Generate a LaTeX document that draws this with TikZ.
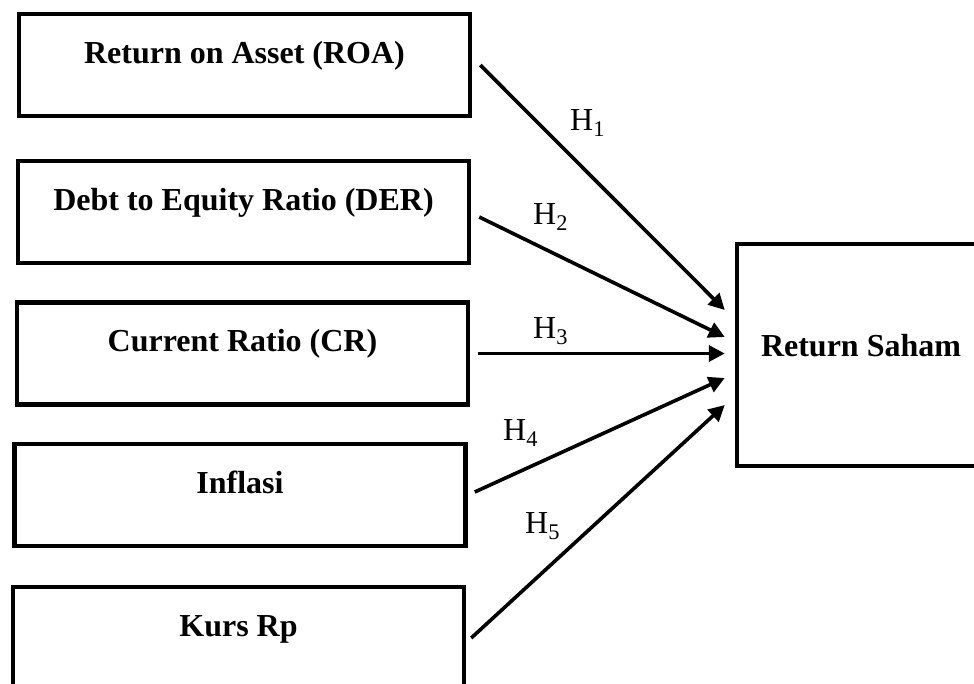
\documentclass[tikz,border=0pt]{standalone}
\usepackage{fontspec}
\setmainfont{Liberation Serif}
\usepackage{tikz}
\usetikzlibrary{arrows.meta, positioning, calc}

\begin{document}
\begin{tikzpicture}[x=1pt, y=-1pt,
  varbox/.style={draw, line width=4.5pt, inner sep=0pt, minimum width=451pt,
    text height=49pt, text depth=53pt, font=\fontsize{32}{38}\selectfont\bfseries},
  hyp/.style={line width=3.6pt, -{Triangle[length=16pt, width=16pt]}},
  hlabel/.style={anchor=base west, inner sep=0pt, font=\fontsize{32}{38}\selectfont}]
  \useasboundingbox (0,0) rectangle (974,683);
  \clip (0,0) rectangle (974,683);

  \node[varbox] (roa) at (244.5,65) {Return on Asset (ROA)};
  \node[varbox] (der) at (243.5,212) {Debt to Equity Ratio (DER)};
  \node[varbox] (cr) at (242.5,353.5) {Current Ratio (CR)};
  \node[varbox] (inf) at (240,495) {Inflasi};
  \node[varbox] (kurs) at (238.5,638) {Kurs Rp};
  \node[varbox, minimum width=248pt, text height=112pt, text depth=110pt] (saham) at (861,355) {Return Saham};

  \draw[hyp] ([xshift=8pt]roa.east) -- ([xshift=-10pt, yshift=45pt]saham.west);
  \draw[hyp] ([xshift=8pt, yshift=-5pt]der.east) -- ([xshift=-10pt, yshift=18pt]saham.west);
  \draw[hyp] ([xshift=8pt]cr.east) -- ([xshift=-10pt]saham.west |- cr.east);
  \draw[hyp] ([xshift=7pt, yshift=3pt]inf.east) -- ([xshift=-10pt, yshift=-23pt]saham.west);
  \draw[hyp] ([xshift=5pt]kurs.east) -- ([xshift=-10pt, yshift=-50pt]saham.west);

  \node[hlabel] (h1) at (570,130) {H\textsubscript{1}};
  \node[hlabel] (h2) at (533,224) {H\textsubscript{2}};
  \node[hlabel] (h3) at (533,338) {H\textsubscript{3}};
  \node[hlabel] (h4) at (503,440) {H\textsubscript{4}};
  \node[hlabel] (h5) at (525,533) {H\textsubscript{5}};
\end{tikzpicture}
\end{document}
